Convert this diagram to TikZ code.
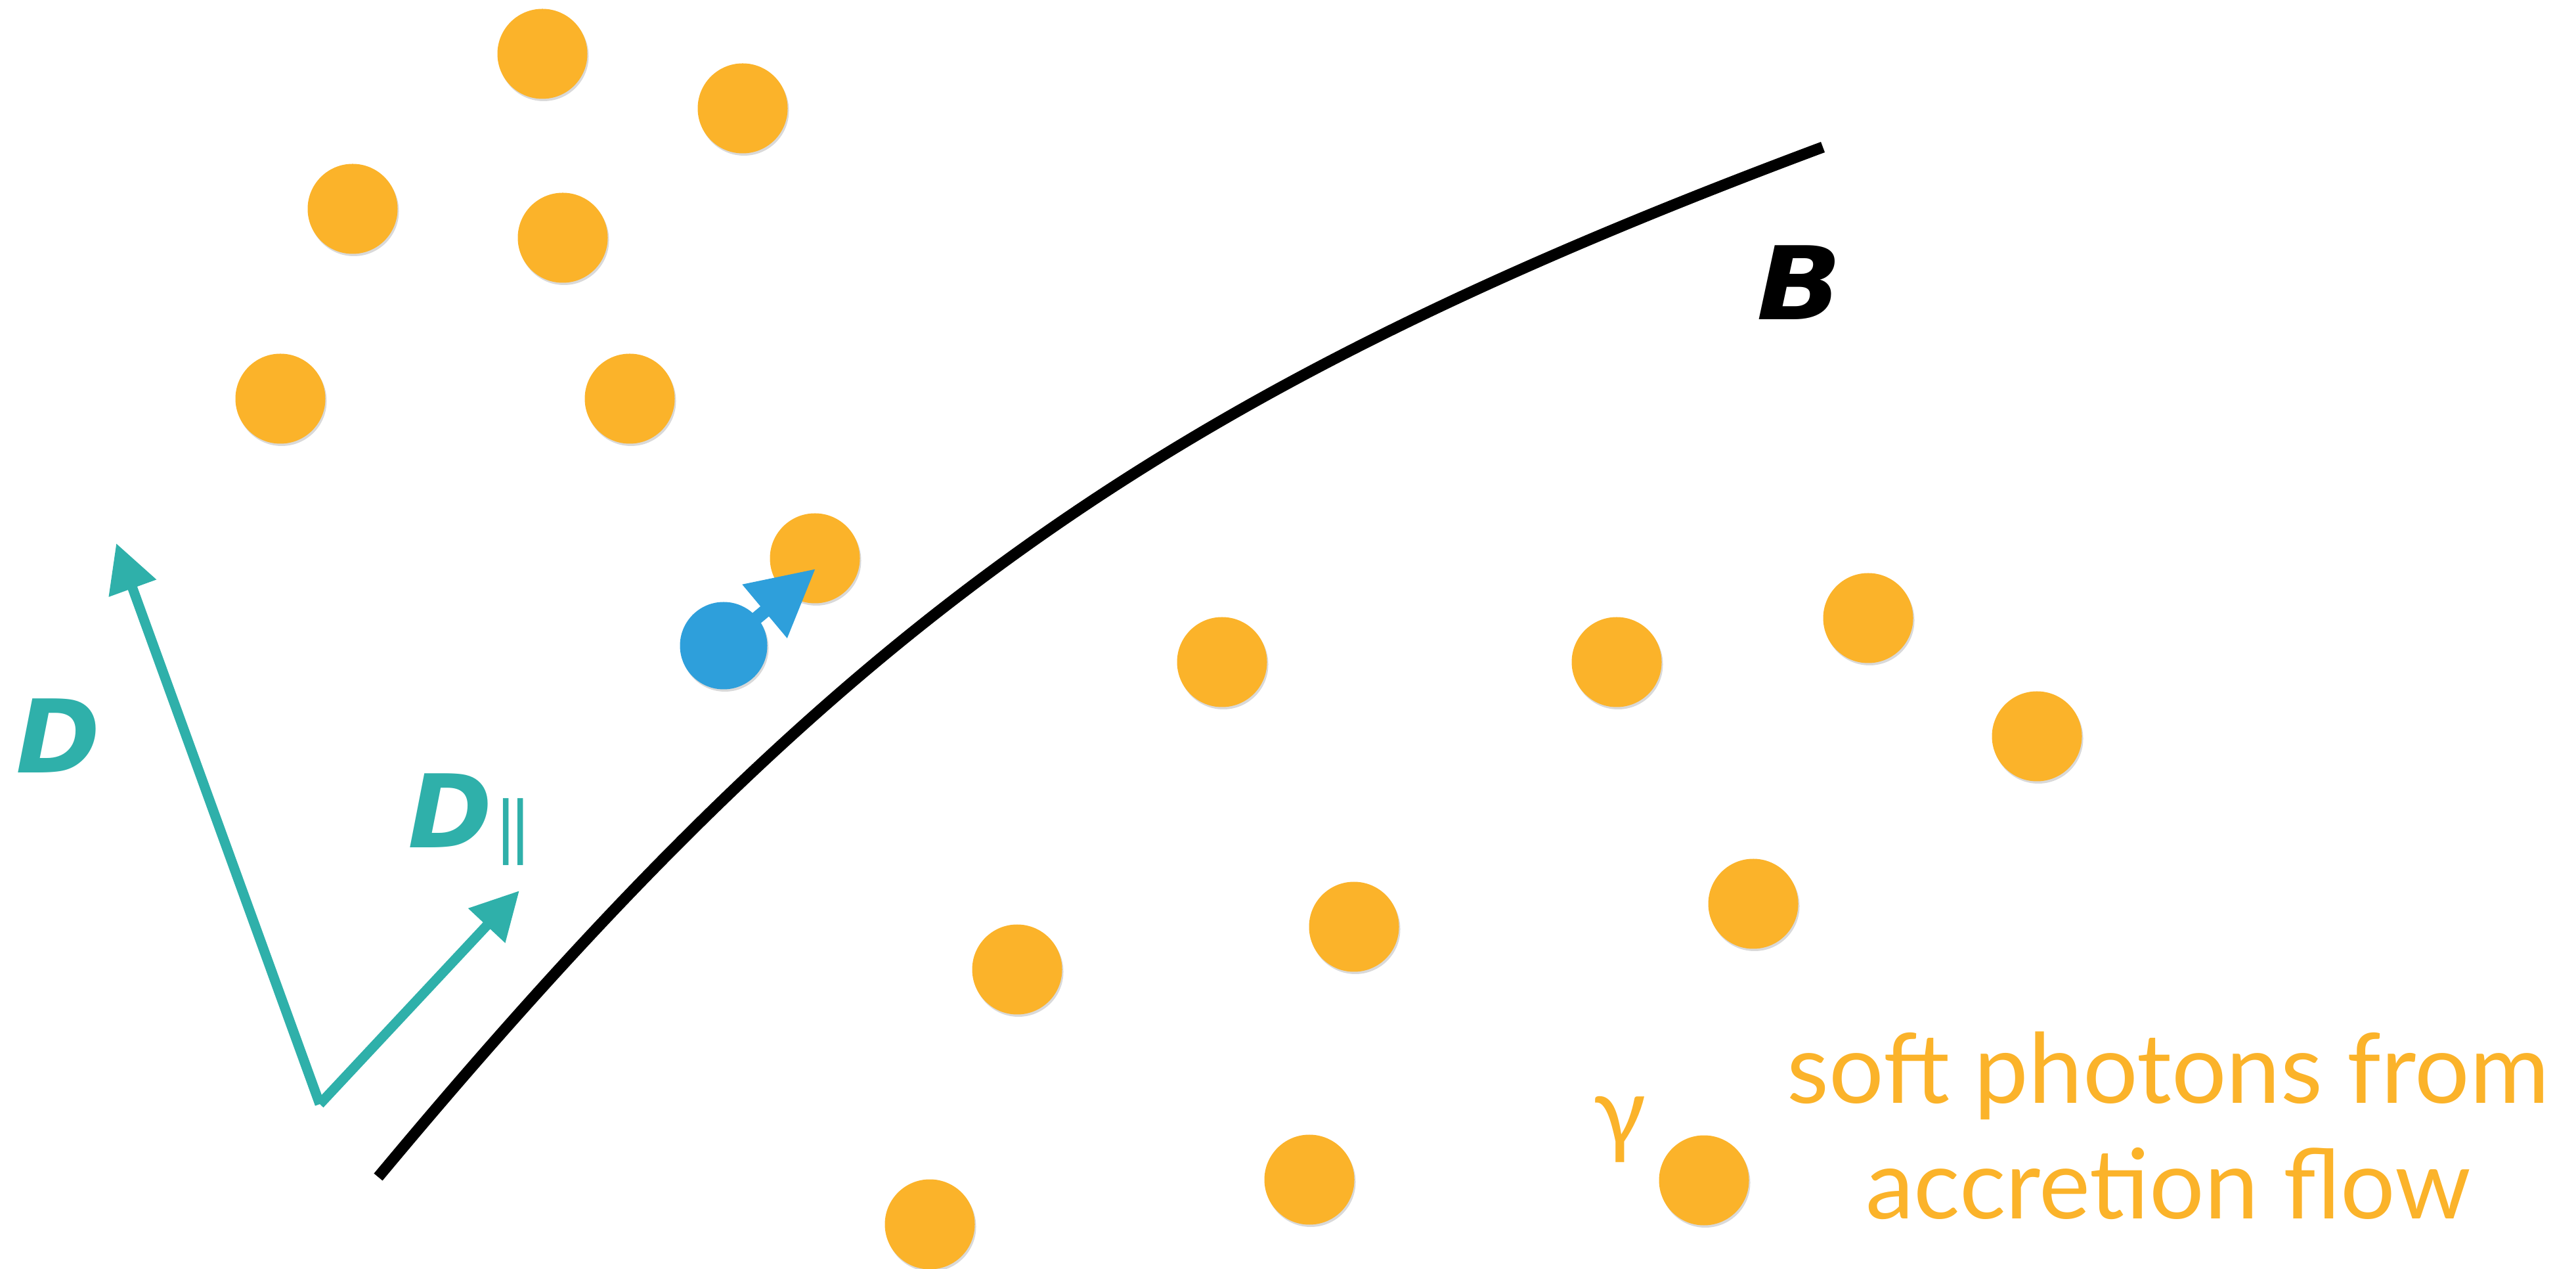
\documentclass[tikz,border=0pt]{standalone}
\usepackage{fontspec}
\usetikzlibrary{arrows.meta,shadows}
\newfontfamily\vecfont{DejaVu Sans}
\newfontfamily\softfont{Lato}
\definecolor{photoncol}{HTML}{FBB32A}
\definecolor{electroncol}{HTML}{2E9FDB}
\definecolor{dcol}{HTML}{2FB0AA}

\begin{document}
\begin{tikzpicture}[
    photon/.style={circle, fill=photoncol, minimum size=1.37cm, inner sep=0pt,
        drop shadow={shadow xshift=0.02cm, shadow yshift=-0.035cm, opacity=0.3}},
    electron/.style={circle, fill=electroncol, minimum size=1.33cm, inner sep=0pt,
        drop shadow={shadow xshift=0.02cm, shadow yshift=-0.035cm, opacity=0.3}},
    dvec/.style={dcol, line width=0.15cm, -{Triangle[length=0.73cm, width=0.73cm]}},
    veclabel/.style={font=\vecfont\bfseries\itshape\fontsize{44}{53}\selectfont, inner sep=0pt},
    softlabel/.style={font=\softfont\fontsize{42}{50}\selectfont, text=photoncol, inner sep=0pt}
]

    % frame of the picture
    \useasboundingbox (0,0) rectangle (39.23,19.31);

    % Magnetic field line
    \coordinate (b0) at (5.76,1.39);
    \coordinate (b3) at (27.76,17.07);
    \draw[line width=0.17cm] (b0) .. controls (12.80,9.84) and (17.64,13.29) .. (b3);
    \node[veclabel] (B) at (27.40,15.01) {\scalebox{1.1}[1]{B}};

    % Soft photons
    \foreach \x/\y [count=\i] in {8.26/18.49, 11.31/17.66, 5.37/16.13, 8.57/15.69,
        4.27/13.24, 9.59/13.24, 12.41/10.81, 18.61/9.23, 24.62/9.23, 28.45/9.90,
        31.02/8.10, 20.62/5.20, 26.70/5.55, 15.49/4.55, 19.94/1.35, 25.95/1.34,
        14.16/0.67}
        \node[photon] (p\i) at (\x,\y) {};

    % Electron and its velocity
    \coordinate (ebase) at (11.645,10.00);
    \coordinate (etip) at (12.42,10.65);
    \draw[white, line width=0.34cm] (11.02,9.48) -- (ebase);
    \node[electron] (e) at (11.02,9.48) {};
    \draw[electroncol, line width=0.2cm, -{Triangle[length=1.01cm, width=1.01cm]}] (e.center) -- (etip);

    % D vectors
    \coordinate (o) at (4.87,2.50);
    \coordinate (dtip) at (1.77,11.04);
    \coordinate (dpartip) at (7.91,5.75);
    \draw[dvec] (o) -- (dtip);
    \draw[dvec] (o) -- (dpartip);
    \node[veclabel, text=dcol] (D) at (0.89,8.11) {D};
    \node[veclabel, text=dcol] (Dpar) at (6.86,6.97) {D};
    \node[font=\vecfont\fontsize{29}{29}\selectfont, text=dcol, inner sep=0pt] (parsym) at (7.82,6.64) {|\kern-3.5pt|};

    % labels for the photons
    \node[softlabel] (gam) at (24.67,2.11) {γ};
    \node[softlabel, align=center] (soft) at (33.02,2.17) {soft photons from\\accretion flow};

\end{tikzpicture}
\end{document}
